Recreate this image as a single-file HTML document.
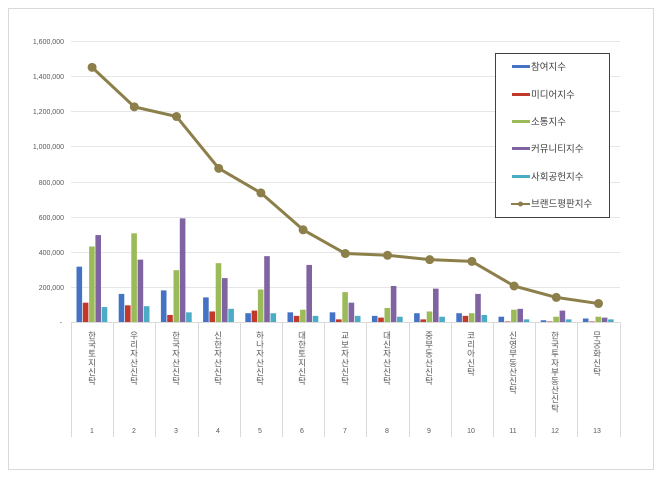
<!DOCTYPE html>
<html><head><meta charset="utf-8"><style>
body{margin:0;background:#fff;}
svg{display:block;font-family:"Liberation Sans","Noto Sans CJK KR",sans-serif;}
</style></head><body>
<svg id="c" width="660" height="478" viewBox="0 0 660 478">
<rect x="8.5" y="8.5" width="645" height="461" fill="#fff" stroke="#d9d9d9"/>
<g stroke="#e6e6e6" stroke-width="1">
<line x1="71" x2="620" y1="41.5" y2="41.5"/><line x1="71" x2="620" y1="76.5" y2="76.5"/>
<line x1="71" x2="620" y1="111.5" y2="111.5"/><line x1="71" x2="620" y1="146.5" y2="146.5"/>
<line x1="71" x2="620" y1="182.5" y2="182.5"/><line x1="71" x2="620" y1="217.5" y2="217.5"/>
<line x1="71" x2="620" y1="252.5" y2="252.5"/><line x1="71" x2="620" y1="287.5" y2="287.5"/>
</g>
<g font-size="7" fill="#595959" text-anchor="end">
<text x="64" y="44">1,600,000</text><text x="64" y="79">1,400,000</text>
<text x="64" y="114">1,200,000</text><text x="64" y="149">1,000,000</text>
<text x="64" y="185">800,000</text><text x="64" y="220">600,000</text>
<text x="64" y="255">400,000</text><text x="64" y="290">200,000</text>
<text x="62" y="325">-</text>
</g>
<g id="bars"></g>
<g id="axis" stroke="#d9d9d9"></g>
<g font-size="8.5" fill="#595959" text-anchor="start" writing-mode="tb" letter-spacing="0.6">
<text x="92" y="331">한국토지신탁</text><text x="134" y="331">우리자산신탁</text>
<text x="176" y="331">한국자산신탁</text><text x="218" y="331">신한자산신탁</text>
<text x="260" y="331">하나자산신탁</text><text x="302" y="331">대한토지신탁</text>
<text x="345" y="331">교보자산신탁</text><text x="387" y="331">대신자산신탁</text>
<text x="429" y="331">중부동산신탁</text><text x="471" y="331">코리아신탁</text>
<text x="513" y="331">신영부동산신탁</text><text x="555" y="331">한국투자부동산신탁</text>
<text x="597" y="331">무궁화신탁</text>
</g>
<g font-size="7" fill="#595959" text-anchor="middle">
<text x="92" y="433">1</text><text x="134" y="433">2</text><text x="176" y="433">3</text>
<text x="218" y="433">4</text><text x="260" y="433">5</text><text x="302" y="433">6</text>
<text x="345" y="433">7</text><text x="387" y="433">8</text><text x="429" y="433">9</text>
<text x="471" y="433">10</text><text x="513" y="433">11</text><text x="555" y="433">12</text>
<text x="597" y="433">13</text>
</g>
<g id="line"></g>
<rect x="495.5" y="53.5" width="114" height="164" fill="#fff" stroke="#404040"/>
<g font-size="9.5" fill="#404040">
<rect x="512" y="65" width="18" height="3" fill="#4472c4"/><text x="531" y="70">참여지수</text>
<rect x="512" y="93" width="18" height="3" fill="#c0392b"/><text x="531" y="98">미디어지수</text>
<rect x="512" y="120" width="18" height="3" fill="#9bbb59"/><text x="531" y="125">소통지수</text>
<rect x="512" y="147" width="18" height="3" fill="#8064a2"/><text x="531" y="152">커뮤니티지수</text>
<rect x="512" y="175" width="18" height="3" fill="#4bacc6"/><text x="531" y="180">사회공헌지수</text>
<line x1="511" x2="530" y1="204" y2="204" stroke="#8c7f4a" stroke-width="2"/><circle cx="520.5" cy="204" r="2.5" fill="#8c7f4a"/><text x="531" y="207">브랜드평판지수</text>
</g>
</svg>
<script>
var NS="http://www.w3.org/2000/svg";
function el(p,t,a){var e=document.createElementNS(NS,t);for(var k in a)e.setAttribute(k,a[k]);p.appendChild(e);return e;}
var d=[[315,110,430,495,85],[160,95,505,355,90],[180,40,295,590,55],[140,60,335,250,75],[50,65,185,375,50],[55,35,70,325,35],[55,15,170,110,35],[35,25,80,205,30],[50,15,60,190,30],[50,35,50,160,40],[30,3,70,75,15],[10,3,30,65,15],[20,3,30,25,15]];
var L=[1450,1225,1170,875,735,525,390,380,355,345,205,140,105];
var cols=["#4472c4","#c0392b","#9bbb59","#8064a2","#4bacc6"];
var y0=322,s=281/1600,x0=71,w=42.2;
var g=document.getElementById("bars");
d.forEach(function(r,i){r.forEach(function(v,j){var h=v*s;el(g,"rect",{x:x0+w*i+5.5+j*6.3,y:y0-h,width:5.6,height:h,fill:cols[j]});});});
var a=document.getElementById("axis");
el(a,"line",{x1:x0,x2:x0+w*13,y1:y0+.5,y2:y0+.5});
for(var i=0;i<=13;i++){var x=Math.round(x0+w*i)+.5;el(a,"line",{x1:x,x2:x,y1:y0,y2:437});}
var lg=document.getElementById("line"),pts=L.map(function(v,i){return (x0+w*(i+.5))+","+(y0-v*s);}).join(" ");
el(lg,"polyline",{points:pts,fill:"none",stroke:"#8c7f4a","stroke-width":3,"stroke-linejoin":"round"});
L.forEach(function(v,i){el(lg,"circle",{cx:x0+w*(i+.5),cy:y0-v*s,r:4.5,fill:"#8c7f4a"});});
</script>
</body></html>
